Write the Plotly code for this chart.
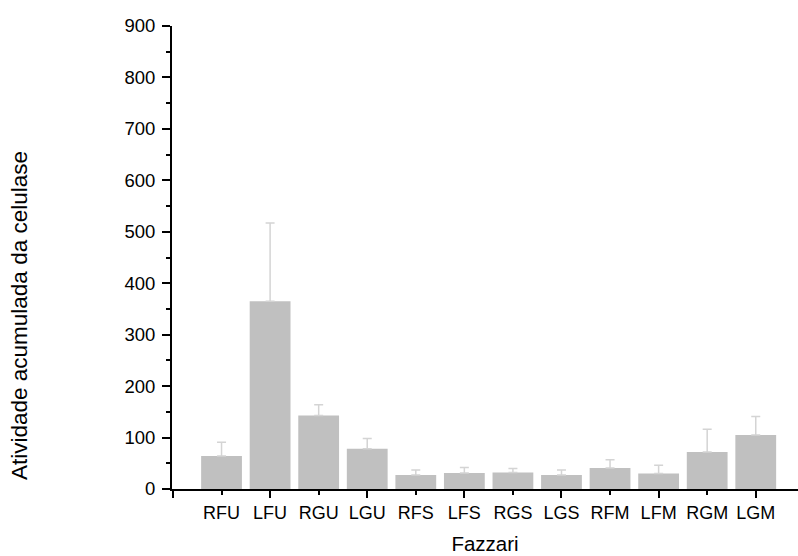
import plotly.graph_objects as go

# Cellulase accumulated activity per treatment (Fazzari)
categories = ["RFU", "LFU", "RGU", "LGU", "RFS", "LFS", "RGS", "LGS", "RFM", "LFM", "RGM", "LGM"]
means = [64, 365, 143, 78, 27, 31, 32, 27, 41, 30, 72, 105]
errors = [27, 152, 21, 20, 10, 11, 8, 10, 16, 16, 44, 36]

positions = list(range(len(categories)))
FONT = "Arial, Liberation Sans, sans-serif"

fig = go.Figure()
fig.add_trace(go.Bar(
    x=positions, y=means, width=0.84,
    marker=dict(color="#c0c0c0", line=dict(width=0)),
    error_y=dict(type="data", array=errors, symmetric=False, arrayminus=[0] * len(errors),
                 color="#d4d4d4", thickness=1.5, width=4.5),
    showlegend=False, hoverinfo="skip",
))
# invisible trace so the overlaid axis carrying the long ticks is drawn
fig.add_trace(go.Scatter(x=[0], y=[0], xaxis="x2", mode="markers",
                         marker=dict(opacity=0), showlegend=False, hoverinfo="skip"))

xr = [-1.02, 11.87]
fig.update_layout(
    width=798, height=556,
    margin=dict(l=172, r=0, t=26, b=67),
    paper_bgcolor="white", plot_bgcolor="white",
    font=dict(family=FONT, color="black"),
    xaxis=dict(
        range=xr, tickmode="array", tickvals=positions, ticktext=categories,
        ticks="outside", ticklen=4, tickwidth=2, tickcolor="black",
        showline=True, linecolor="black", linewidth=2, showgrid=False, zeroline=False,
        tickfont=dict(size=18, family=FONT), ticklabelstandoff=2,
        title=dict(text="Fazzari", font=dict(size=20.5, family=FONT), standoff=15),
    ),
    xaxis2=dict(
        range=xr, overlaying="x", side="bottom", tickmode="array",
        tickvals=[-1, 1, 3, 5, 7, 9, 11], showticklabels=False,
        ticks="outside", ticklen=8, tickwidth=2, tickcolor="black",
        showline=False, showgrid=False, zeroline=False,
    ),
    yaxis=dict(
        range=[0, 900], tickmode="array", tickvals=list(range(0, 901, 100)),
        ticks="outside", ticklen=8, tickwidth=2, tickcolor="black",
        minor=dict(tickmode="array", tickvals=list(range(50, 900, 100)),
                   ticks="outside", ticklen=4, tickwidth=2, tickcolor="black"),
        showline=True, linecolor="black", linewidth=2, showgrid=False, zeroline=False,
        tickfont=dict(size=18.5, family=FONT), ticklabelstandoff=3,
    ),
    annotations=[dict(
        text="Atividade acumulada da celulase", textangle=-90,
        xref="paper", yref="paper", x=(19 - 172) / 626, y=(489 - 316) / 463,
        xanchor="center", yanchor="middle", showarrow=False,
        font=dict(size=22.5, family=FONT, color="black"),
    )],
)

fig.write_html("out.html")
